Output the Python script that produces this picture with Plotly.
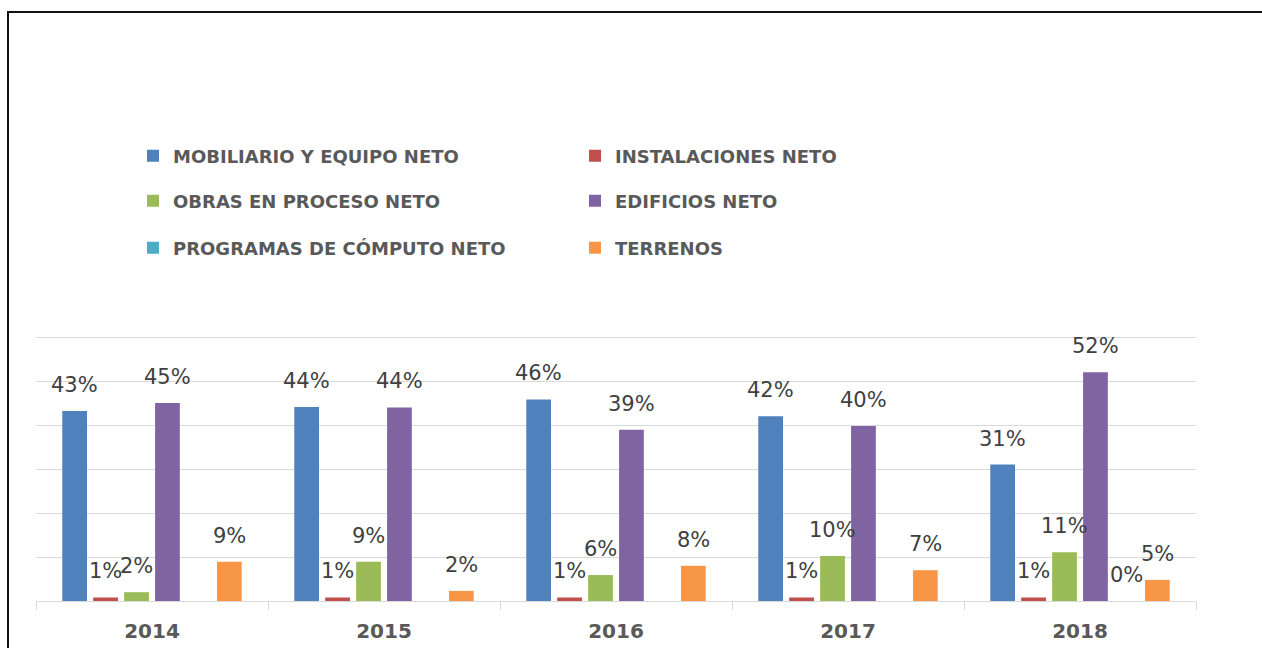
import plotly.graph_objects as go

years = ["2014", "2015", "2016", "2017", "2018"]
series_names = [
    "MOBILIARIO Y EQUIPO NETO",
    "INSTALACIONES NETO",
    "OBRAS EN PROCESO NETO",
    "EDIFICIOS NETO",
    "PROGRAMAS DE CÓMPUTO NETO",
    "TERRENOS",
]
mobiliario = [43.2, 44.1, 45.8, 42.0, 31.0]
instalaciones = [0.8, 0.8, 0.8, 0.8, 0.8]
obras = [2.0, 8.9, 5.9, 10.2, 11.1]
edificios = [45.0, 44.0, 38.9, 39.8, 52.0]
programas = [None, None, None, None, 0.0]
terrenos = [8.9, 2.3, 8.0, 7.0, 4.8]

series_values = [mobiliario, instalaciones, obras, edificios, programas, terrenos]
colors = ["#4F81BD", "#C0504D", "#9BBB59", "#8064A2", "#4BACC6", "#F79646"]
legend_ids = ["legend", "legend", "legend2", "legend2", "legend3", "legend3"]

W, H = 1262, 648
ML = 36
MR = W - 1196
MT = 335
MB = H - 601
PW, PH = W - ML - MR, H - MT - MB
BARGAP, GROUPGAP = 0.2, 0.2
YMAX = 60
PX_PER_UNIT = (601 - 337) / YMAX
Y_TOP = PH / PX_PER_UNIT

fig = go.Figure()
for name, vals, col, lg in zip(series_names, series_values, colors, legend_ids):
    fig.add_trace(go.Bar(
        x=years, y=vals, name=name, marker=dict(color=col, line=dict(width=0)),
        legend=lg, hoverinfo="skip",
    ))

# data labels above bars
n = len(series_values)
span = 1 - BARGAP
for j, vals in enumerate(series_values):
    off = -span / 2 + (j + 0.5) * span / n
    for i, v in enumerate(vals):
        if v is None:
            continue
        fig.add_annotation(
            x=i + off, y=v, xref="x", yref="y", text=f"{v:.0f}%",
            showarrow=False, yshift=26,
            font=dict(family="DejaVu Sans", size=21, color="#404040"),
        )

def px_x(px):
    return (px - ML) / PW

def px_y(py):
    return (H - MB - py) / PH

leg_common = dict(
    orientation="h", entrywidth=397, entrywidthmode="pixels",
    font=dict(family="DejaVu Sans", size=18, color="#595959", weight="bold"),
    bgcolor="rgba(0,0,0,0)", xanchor="left", yanchor="middle",
    itemclick=False, itemdoubleclick=False,
)
row_y = [156, 201, 248]
leg_x = 133
fig.update_layout(
    width=W, height=H,
    margin=dict(l=ML, r=MR, t=MT, b=MB, pad=0, autoexpand=False),
    paper_bgcolor="white", plot_bgcolor="white",
    barmode="group", bargap=BARGAP, bargroupgap=GROUPGAP,
    showlegend=True,
    legend=dict(x=px_x(leg_x), y=px_y(row_y[0]), **leg_common),
    legend2=dict(x=px_x(leg_x), y=px_y(row_y[1]), **leg_common),
    legend3=dict(x=px_x(leg_x), y=px_y(row_y[2]), **leg_common),
    xaxis=dict(
        type="category", tickson="boundaries", ticks="outside", ticklen=8,
        tickcolor="#d9d9d9", showline=True, linecolor="#d9d9d9", linewidth=1,
        showgrid=False, ticklabelstandoff=12, automargin=False,
        tickfont=dict(family="DejaVu Sans", size=20, color="#595959", weight="bold"),
    ),
    yaxis=dict(
        range=[0, Y_TOP], dtick=10, showgrid=True, gridcolor="#d9d9d9", gridwidth=1,
        showticklabels=False, zeroline=False, showline=False, ticks="", automargin=False,
    ),
    shapes=[dict(
        type="rect", xref="paper", yref="paper",
        x0=px_x(8), x1=px_x(1300), y0=px_y(700), y1=px_y(12),
        line=dict(color="#111111", width=2), fillcolor="rgba(0,0,0,0)", layer="above",
    )],
)

fig.write_html(
    "out.html",
    config={"displayModeBar": False},
    post_script="document.body.style.margin='0';document.documentElement.style.overflow='hidden';",
)
